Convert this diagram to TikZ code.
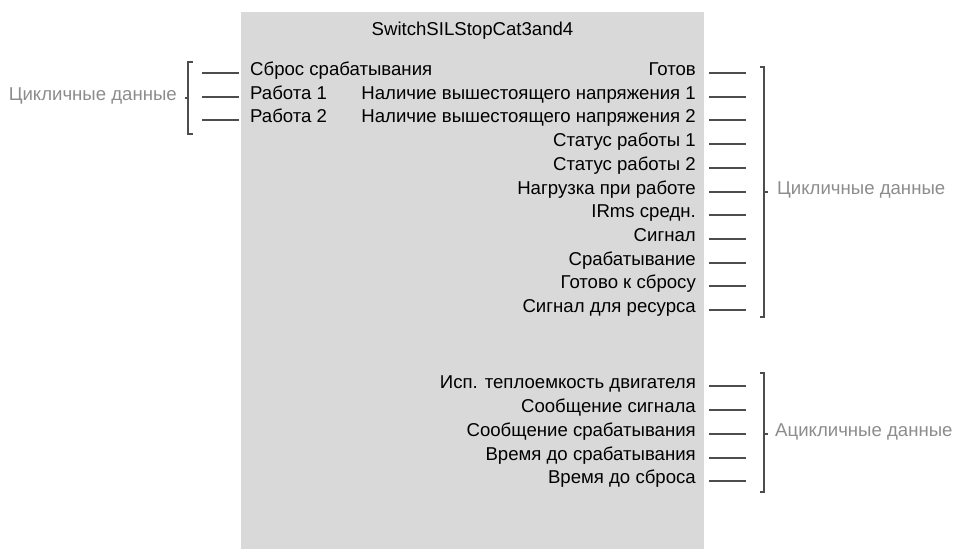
\documentclass[tikz,border=0pt]{standalone}
\usepackage{fontspec}
\setmainfont{Liberation Sans}
\definecolor{boxfill}{HTML}{D9D9D9}
\definecolor{linec}{HTML}{4D4D4D}
\definecolor{labc}{HTML}{8C8C8C}
\begin{document}
\begin{tikzpicture}[x=1pt,y=-1pt,
  lbl/.style={font=\fontsize{18.6}{22}\selectfont, inner sep=0pt},
  grp/.style={font=\fontsize{18.6}{22}\selectfont, text=labc, inner sep=0pt},
  pinline/.style={draw=linec, line width=2pt},
  brk/.style={draw=linec, line width=2pt}]
\useasboundingbox (0,0) rectangle (955,549);
\node[fill=boxfill, minimum width=463pt, minimum height=537pt, anchor=north west, inner sep=0pt] (blk) at (241,12) {};
\node[lbl, anchor=mid] (title) at (472.5,33.2) {SwitchSILStopCat3and4};
% left inputs
\foreach [count=\i] \t/\yy in {Сброс срабатывания/73, Работа 1/97, Работа 2/120} {
  \node[lbl, anchor=mid west] (l\i) at (250,\yy) {\t};
  \coordinate (la\i) at (202,\yy);
  \coordinate (lb\i) at (239,\yy);
  \draw[pinline] (la\i) -- (lb\i);
}
% right cyclic outputs
\foreach [count=\i] \t/\yy in {Готов/73, Наличие вышестоящего напряжения 1/97, Наличие вышестоящего напряжения 2/120, Статус работы 1/144, Статус работы 2/168, Нагрузка при работе/192, IRms средн./215, Сигнал/239, Срабатывание/263, Готово к сбросу/286, Сигнал для ресурса/310} {
  \node[lbl, anchor=mid east] (r\i) at (696,\yy) {\t};
  \coordinate (ra\i) at (709,\yy);
  \coordinate (rb\i) at (746,\yy);
  \draw[pinline] (ra\i) -- (rb\i);
}
% right acyclic outputs
\foreach [count=\i] \t/\yy in {Исп. теплоемкость двигателя/386, Сообщение сигнала/410, Сообщение срабатывания/434, Время до срабатывания/458, Время до сброса/481} {
  \node[lbl, anchor=mid east] (a\i) at (696,\yy) {\t};
  \coordinate (aa\i) at (709,\yy);
  \coordinate (ab\i) at (746,\yy);
  \draw[pinline] (aa\i) -- (ab\i);
}
% brackets
\coordinate (lbt) at (188,62);
\coordinate (lbb) at (188,134);
\coordinate (lbm) at (188,98);
\draw[brk] ([xshift=5pt]lbt) -- (lbt) -- (lbb) -- ([xshift=5pt]lbb);
\draw[brk] (lbm) -- ([xshift=-3.5pt]lbm);
\node[grp, anchor=mid east] (lg) at (177,97.7) {Цикличные данные};

\coordinate (cbt) at (764,67);
\coordinate (cbb) at (764,317);
\coordinate (cbm) at (764,192);
\draw[brk] ([xshift=-4pt]cbt) -- (cbt) -- (cbb) -- ([xshift=-4pt]cbb);
\draw[brk] (cbm) -- ([xshift=3.5pt]cbm);
\node[grp, anchor=mid west] (cg) at (777,192) {Цикличные данные};

\coordinate (abt) at (764,373);
\coordinate (abb) at (764,492);
\coordinate (abm) at (764,434);
\draw[brk] ([xshift=-4pt]abt) -- (abt) -- (abb) -- ([xshift=-4pt]abb);
\draw[brk] (abm) -- ([xshift=3.5pt]abm);
\node[grp, anchor=mid west] (ag) at (775,434) {Ацикличные данные};
\end{tikzpicture}
\end{document}
